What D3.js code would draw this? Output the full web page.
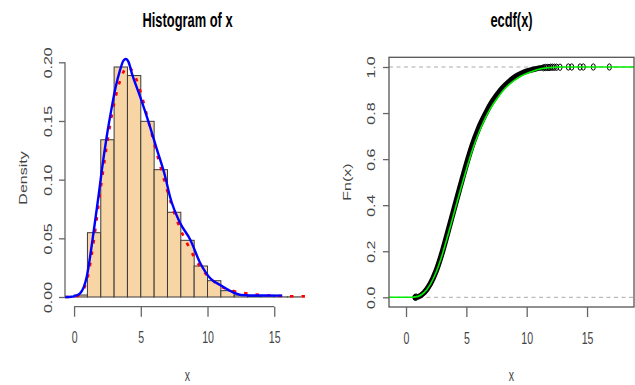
<!DOCTYPE html>
<html>
<head>
<meta charset="utf-8">
<script src="https://cdn.jsdelivr.net/npm/d3@7"></script>
<style>
  body { margin: 0; background: #fff; }
  svg text { font-family: "Liberation Sans", Arial, Helvetica, sans-serif; }
</style>
</head>
<body>
<svg id="chart"></svg>
<script>
// ---- data ----
// histogram (density per unit-wide bin)
const binStarts = [0, 1, 2, 3, 4, 5, 6, 7, 8, 9, 10, 11, 12, 13, 14, 15, 16];
const binDensity = [0.0017, 0.0548, 0.134, 0.196, 0.1887, 0.1497, 0.1085, 0.0722,
  0.0483, 0.0264, 0.0139, 0.0054, 0.0017, 0.0004, 0.0002, 0.0001, 0.0001];

// blue density curve
const densX = [-0.68, -0.2, 0, 0.45, 0.95, 1.45, 1.82, 2.08, 2.45, 2.83, 3.1, 3.45, 3.7, 3.88,
  4.07, 4.33, 4.95, 5.57, 6.2, 6.83, 7.2, 7.95, 8.7, 9.45, 10.2, 10.95, 11.95, 12.5, 13.2, 15.6];
const densY = [0, 0.0002, 0.0006, 0.0031, 0.0173, 0.0543, 0.085, 0.108, 0.137, 0.162, 0.178, 0.1935,
  0.2014, 0.2028, 0.2006, 0.1906, 0.1707, 0.1495, 0.126, 0.1025, 0.085, 0.063, 0.049, 0.029,
  0.016, 0.0102, 0.0037, 0.0017, 0.0013, 0.0012];

// red dotted theoretical density
const theoX = [-0.68, 0, 0.5, 1, 1.5, 2, 2.5, 3, 3.5, 4, 4.5, 5, 5.5, 6, 6.5, 7, 7.5, 8, 8.5, 9,
  9.5, 10, 10.5, 11, 12, 13.2, 14.1, 15, 15.8, 17.68];
const theoY = [0, 0, 0.003, 0.016, 0.05, 0.093, 0.133, 0.165, 0.186, 0.196, 0.19, 0.174, 0.153, 0.131,
  0.11, 0.09, 0.072, 0.057, 0.045, 0.034, 0.025, 0.018, 0.013, 0.009, 0.005, 0.0026, 0.0017, 0.0011,
  0.0008, 0.0005];

// empirical cdf (dense part) and isolated tail points
const ecdfX = [0.75, 1.0, 1.5, 2.0, 2.5, 3.0, 3.5, 4.0, 4.5, 5.0, 5.5, 6.0, 6.5, 7.0, 7.5, 8.0,
  8.5, 9.0, 9.5, 10.0, 10.5, 11.0, 11.3];
const ecdfF = [0, 0.002, 0.02, 0.057, 0.115, 0.195, 0.29, 0.387, 0.483, 0.577, 0.662, 0.732, 0.788,
  0.838, 0.877, 0.91, 0.935, 0.956, 0.971, 0.982, 0.989, 0.995, 0.997];
const tailX = [0.75, 0.85, 11.4, 11.55, 11.7, 11.85, 12.0, 12.15, 12.3, 12.48, 12.76, 13.45, 13.73,
  14.42, 14.69, 15.52, 16.85];
const tailF = [0, 0.001, 0.997, 0.998, 0.998, 0.998, 0.999, 0.999, 0.999, 0.999, 0.999, 1, 1, 1, 1, 1, 1];

// green theoretical cdf
const cdfX = [-1.41, 0, 0.5, 1, 1.5, 2, 2.5, 3, 3.5, 4, 4.5, 5, 5.5, 6, 6.5, 7, 7.5, 8, 8.5, 9,
  9.5, 10, 10.5, 11, 11.5, 12, 12.5, 13, 18.89];
const cdfF = [0, 0, 0.0005, 0.004, 0.02, 0.055, 0.11, 0.185, 0.275, 0.37, 0.465, 0.555, 0.64, 0.71,
  0.77, 0.82, 0.86, 0.895, 0.922, 0.943, 0.96, 0.972, 0.982, 0.99, 0.995, 0.998, 0.9995, 1, 1];

const xTicks = [0, 5, 10, 15];
const yTicksL = [0, 0.05, 0.10, 0.15, 0.20];
const yTicksR = [0, 0.2, 0.4, 0.6, 0.8, 1.0];

// ---- layout ----
const width = 635, height = 385;
const sq = 0.66;            // the picture is squeezed horizontally
const axisCol = "#666", textCol = "#444";

const svg = d3.select("#chart").attr("width", width).attr("height", height);

// helper for squeezed text
function sqText(g, x, y, str, opts = {}) {
  const rot = opts.rotate ? " rotate(-90)" : "";
  return g.append("text")
    .attr("transform", `translate(${x},${y}) scale(${sq},1)${rot}`)
    .attr("text-anchor", "middle")
    .attr("fill", opts.fill || textCol)
    .style("font-size", (opts.size || 16) + "px")
    .style("font-weight", opts.bold ? "bold" : "normal")
    .text(str);
}

// restyle the d3 axis labels into R-like squeezed text
function styleAxis(g, rotate) {
  g.selectAll("path.domain").attr("stroke", axisCol).attr("stroke-width", 1.3);
  g.selectAll(".tick line").attr("stroke", axisCol).attr("stroke-width", 1.3);
  g.selectAll(".tick text").each(function () {
    const t = d3.select(this);
    t.attr("fill", textCol).style("font-size", "16px")
      .attr("text-anchor", "middle").attr("dy", null).attr("x", null).attr("y", null)
      .attr("font-family", null);
    if (rotate) t.attr("transform", `translate(${-rotate},0) scale(${sq},1) rotate(-90)`);
    else t.attr("transform", `translate(0,36.5) scale(${sq},1)`);
  });
}

// ================= LEFT: histogram =================
const xL = d3.scaleLinear().domain([-0.68, 17.68]).range([65, 310]);
const yL = d3.scaleLinear().domain([0, 0.20]).range([297, 62.3]);
const left = svg.append("g");

left.selectAll("rect.bar")
  .data(binStarts.map((b, i) => ({ x0: b, x1: b + 1, d: binDensity[i] })))
  .join("rect")
  .attr("class", "bar")
  .attr("x", d => xL(d.x0))
  .attr("width", d => xL(d.x1) - xL(d.x0))
  .attr("y", d => yL(d.d))
  .attr("height", d => yL(0) - yL(d.d))
  .attr("fill", "#F8D5A5")
  .attr("stroke", "#3a3a3a")
  .attr("stroke-width", 1);

const lineL = d3.line().x(d => xL(d[0])).y(d => yL(d[1])).curve(d3.curveMonotoneX);

left.append("path")
  .attr("d", lineL(theoX.map((x, i) => [x, theoY[i]])))
  .attr("fill", "none").attr("stroke", "#ff0000")
  .attr("stroke-width", 2.6).attr("stroke-dasharray", "3.5,8");

left.append("path")
  .attr("d", lineL(densX.map((x, i) => [x, densY[i]])))
  .attr("fill", "none").attr("stroke", "#0000ff").attr("stroke-width", 2.4);

const axLx = left.append("g").attr("transform", "translate(0,306.7)")
  .call(d3.axisBottom(xL).tickValues(xTicks).tickSize(10).tickSizeOuter(0).tickFormat(d3.format("d")));
axLx.select(".domain").attr("d", `M${xL(0)},0H${xL(15)}`);
styleAxis(axLx);

const axLy = left.append("g").attr("transform", "translate(65,0)")
  .call(d3.axisLeft(yL).tickValues(yTicksL).tickSize(6).tickSizeOuter(0).tickFormat(d3.format(".2f")));
axLy.select(".domain").attr("d", `M0,${yL(0)}V${yL(0.20)}`);
styleAxis(axLy, 12.9);

sqText(svg, 187.5, 26.5, "Histogram of x", { size: 19.5, bold: true, fill: "#000" });
sqText(svg, 187.5, 381, "x");
sqText(svg, 27, 178, "Density", { rotate: true });

// ================= RIGHT: ecdf =================
const xR = d3.scaleLinear().domain([-1.41, 18.89]).range([389, 634]);
const yR = d3.scaleLinear().domain([0, 1]).range([297.3, 67]);
const right = svg.append("g");

// dashed reference lines at 0 and 1
right.selectAll("line.ref").data([0, 1]).join("line")
  .attr("x1", xR(-1.41)).attr("x2", xR(18.89))
  .attr("y1", d => yR(d)).attr("y2", d => yR(d))
  .attr("stroke", "#aaaaaa").attr("stroke-width", 1).attr("stroke-dasharray", "4,3.5");

const lineR = d3.line().x(d => xR(d[0])).y(d => yR(d[1])).curve(d3.curveMonotoneX);

right.append("path")
  .attr("d", lineR(ecdfX.map((x, i) => [x, ecdfF[i]])))
  .attr("fill", "none").attr("stroke", "#000")
  .attr("stroke-width", 5.5).attr("stroke-linecap", "round");

right.selectAll("ellipse.pt")
  .data(tailX.map((x, i) => [x, tailF[i]]))
  .join("ellipse")
  .attr("cx", d => xR(d[0])).attr("cy", d => yR(d[1]))
  .attr("rx", 2).attr("ry", 3.2)
  .attr("fill", "none").attr("stroke", "#000").attr("stroke-width", 1);

right.append("path")
  .attr("d", lineR(cdfX.map((x, i) => [x, cdfF[i]])))
  .attr("fill", "none").attr("stroke", "#00ee00").attr("stroke-width", 1.6);

right.append("rect")
  .attr("x", 389).attr("y", 57.3).attr("width", 634 - 389).attr("height", 307 - 57.3)
  .attr("fill", "none").attr("stroke", "#555").attr("stroke-width", 1.3);

const axRx = right.append("g").attr("transform", "translate(0,307)")
  .call(d3.axisBottom(xR).tickValues(xTicks).tickSize(10).tickSizeOuter(0).tickFormat(d3.format("d")));
axRx.select(".domain").remove();
styleAxis(axRx);

const axRy = right.append("g").attr("transform", "translate(389,0)")
  .call(d3.axisLeft(yR).tickValues(yTicksR).tickSize(6).tickSizeOuter(0).tickFormat(d3.format(".1f")));
axRy.select(".domain").remove();
styleAxis(axRy, 14.4);

sqText(svg, 511.5, 27, "ecdf(x)", { size: 19.5, bold: true, fill: "#000" });
sqText(svg, 511.5, 381, "x");
sqText(svg, 351, 182, "Fn(x)", { rotate: true });
</script>
</body>
</html>
